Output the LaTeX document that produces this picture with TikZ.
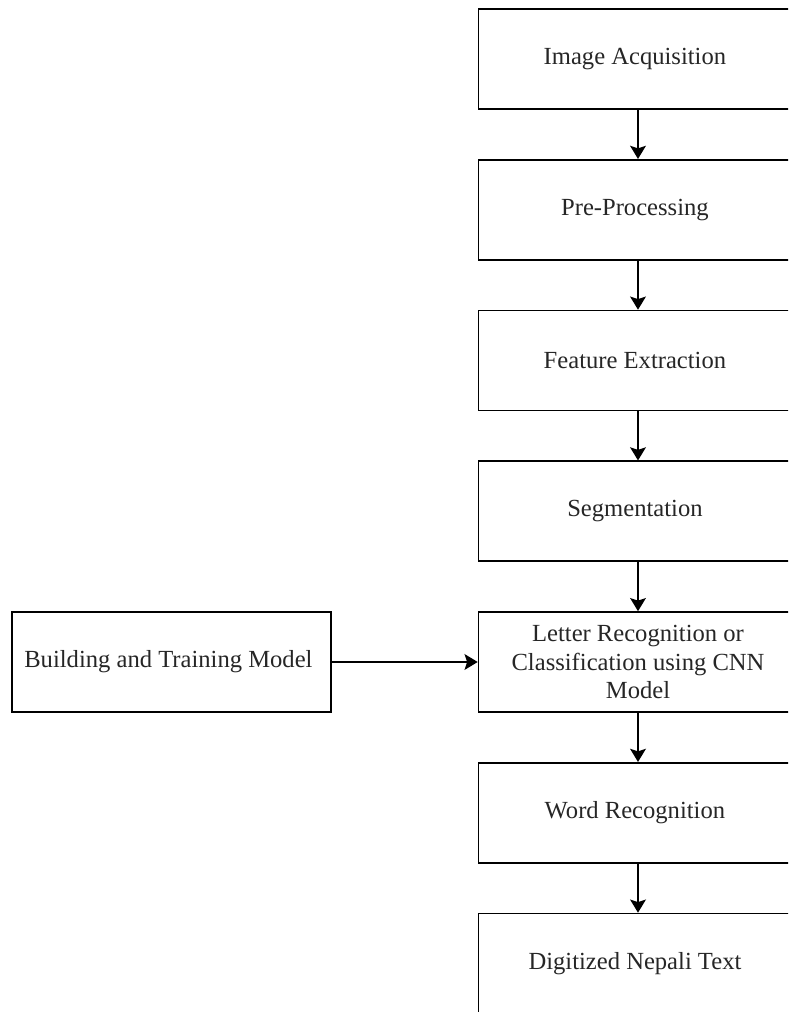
\documentclass[tikz,border=0pt]{standalone}
\usepackage{fontspec}
\setmainfont{Liberation Serif}
\usepackage{tikz}
\usetikzlibrary{arrows.meta}

\begin{document}
\begin{tikzpicture}[
    stage/.style = {draw, line width=0.9pt, minimum width=6.38cm, minimum height=2cm,
        align=center, font=\fontsize{14}{16}\selectfont, text=black!85},
    flow/.style = {line width=0.9pt, arrows = {-Stealth[width=9pt, length=7.5pt, inset=1.5pt]}}
]
    \clip (0, 0) rectangle (15.76, 20.24);
    \node[stage] (acq) at (12.76, 19.06) { Image Acquisition };
    \node[stage] (pre) at (12.76, 16.045) { Pre-Processing };
    \node[stage] (feat) at (12.76, 13.03) { Feature Extraction };
    \node[stage] (seg) at (12.76, 10.015) { Segmentation };
    \node[stage] (cls) at (12.76, 7.0) { Letter Recognition or\\ Classification using CNN\\ Model };
    \node[stage] (word) at (12.76, 3.985) { Word Recognition };
    \node[stage] (out) at (12.76, 0.97) { Digitized Nepali Text };
    \node[stage] (train) at (3.43, 7.0) { Building and Training Model };
    \draw[flow] (acq) -- (pre);
    \draw[flow] (pre) -- (feat);
    \draw[flow] (feat) -- (seg);
    \draw[flow] (seg) -- (cls);
    \draw[flow] (cls) -- (word);
    \draw[flow] (word) -- (out);
    \draw[flow] (train) -- (cls);
\end{tikzpicture}
\end{document}
